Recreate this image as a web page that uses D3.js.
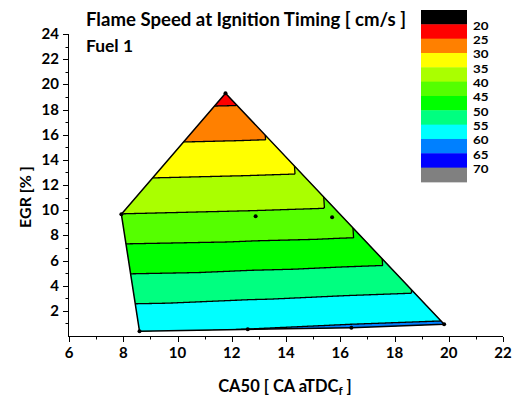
<!DOCTYPE html>
<html><head><meta charset="utf-8">
<script src="https://cdn.jsdelivr.net/npm/d3@7"></script>
<style>
body{margin:0;background:#fff}
svg{display:block}
text{font-family:Lato,"Open Sans",sans-serif;font-weight:bold;fill:#000}
</style>
</head><body>
<svg id="c" width="528" height="397"></svg>
<script>
// ---- data ----
const ca50  = [11.77, 7.93, 8.60, 19.83, 12.88, 15.70, 12.59, 16.41];
const egr   = [19.30, 9.68, 0.37, 0.93, 9.52, 9.44, 0.53, 0.66];
const speed = [23.2, 40.05, 59.6, 60.6, 40.8, 41.3, 60.05, 60.6];
const levels = [20, 25, 30, 35, 40, 45, 50, 55, 60, 65, 70];
const bandColors = ["#000000","#FF0000","#FF8000","#FFFF00","#AAFF00","#55FF00","#00FF00","#00FF80","#00FFFF","#0080FF","#0000FF","#808080"];
const xTicks = [6, 8, 10, 12, 14, 16, 18, 20, 22];
const yTicks = [2, 4, 6, 8, 10, 12, 14, 16, 18, 20, 22, 24];
const titleText = "Flame Speed at Ignition Timing [ cm/s ]";
const subtitleText = "Fuel 1";

// ---- layout ----
const svg = d3.select("#c");
const x = d3.scaleLinear().domain([6, 22]).range([69, 503]);
const y = d3.scaleLinear().domain([0, 24]).range([336, 34]);

function fitText(sel, targetW) {
  const n = sel.node();
  const fs = parseFloat(sel.attr("font-size"));
  const w = n.getComputedTextLength();
  if (w > 0) sel.attr("font-size", (fs * targetW / w).toFixed(2));
  return sel;
}

// ---- triangulation + linear interpolation (as contour from XYZ data) ----
const pts = ca50.map((v, i) => [v, egr[i]]);
const del = d3.Delaunay.from(pts);
const tris = [];
for (let t = 0; t < del.triangles.length; t += 3) tris.push([del.triangles[t], del.triangles[t+1], del.triangles[t+2]]);
function interp(dx, dy) {
  let best = 0, bestMin = -Infinity;
  for (const [a, b, c] of tris) {
    const [x1, y1] = pts[a], [x2, y2] = pts[b], [x3, y3] = pts[c];
    const det = (y2 - y3) * (x1 - x3) + (x3 - x2) * (y1 - y3);
    const l1 = ((y2 - y3) * (dx - x3) + (x3 - x2) * (dy - y3)) / det;
    const l2 = ((y3 - y1) * (dx - x3) + (x1 - x3) * (dy - y3)) / det;
    const l3 = 1 - l1 - l2;
    const m = Math.min(l1, l2, l3);
    if (m > bestMin) { bestMin = m; best = l1 * speed[a] + l2 * speed[b] + l3 * speed[c]; }
  }
  return best;
}
const gx0 = x(6) + 20, gy0 = y(24) + 40, gx1 = x(21), gy1 = y(0) + 4;
const nx = Math.ceil(gx1 - gx0), ny = Math.ceil(gy1 - gy0);
const values = new Float64Array(nx * ny);
for (let j = 0; j < ny; j++) for (let i = 0; i < nx; i++) {
  values[j * nx + i] = interp(x.invert(gx0 + i + 0.5), y.invert(gy0 + j + 0.5));
}
const contours = d3.contours().size([nx, ny]).thresholds(levels)(values);

const hull = del.hullPolygon().map(p => [x(p[0]), y(p[1])]);
const hullLine = d3.line().curve(d3.curveLinearClosed);

svg.append("clipPath").attr("id", "hullclip").append("path").attr("d", hullLine(hull));

const plot = svg.append("g").attr("clip-path", "url(#hullclip)");
plot.append("path").attr("d", hullLine(hull)).attr("fill", bandColors[0]);
const gpath = d3.geoPath();
const cg = plot.append("g").attr("transform", `translate(${gx0},${gy0})`);
cg.selectAll("path.band").data(contours).join("path")
  .attr("class", "band")
  .attr("d", gpath)
  .attr("fill", (d, i) => bandColors[i + 1]);
cg.selectAll("path.line").data(contours).join("path")
  .attr("class", "line")
  .attr("d", gpath)
  .attr("fill", "none")
  .attr("stroke", "#000")
  .attr("stroke-width", 1.3);

svg.append("path").attr("d", hullLine(hull)).attr("fill", "none")
  .attr("stroke", "#000").attr("stroke-width", 1.5).attr("stroke-linejoin", "round");

svg.selectAll("circle.pt").data(pts).join("circle")
  .attr("class", "pt").attr("cx", d => x(d[0])).attr("cy", d => y(d[1]))
  .attr("r", 2).attr("fill", "#000");

// ---- axes ----
const ax = svg.append("g").attr("stroke", "#000").attr("stroke-width", 1);
ax.append("line").attr("x1", x(6)).attr("x2", x(22)).attr("y1", y(0) + 0.5).attr("y2", y(0) + 0.5);
ax.append("line").attr("x1", x(6) - 0.5).attr("x2", x(6) - 0.5).attr("y1", y(24)).attr("y2", y(0) + 1);
d3.range(6, 22.01, 1).forEach(v => {
  const major = v % 2 === 0;
  ax.append("line").attr("x1", Math.round(x(v)) + 0.5).attr("x2", Math.round(x(v)) + 0.5)
    .attr("y1", y(0) + 1).attr("y2", y(0) + (major ? 6 : 3.5));
});
d3.range(1, 24.01, 1).forEach(v => {
  const major = v % 2 === 0;
  ax.append("line").attr("y1", Math.round(y(v)) + 0.5).attr("y2", Math.round(y(v)) + 0.5)
    .attr("x1", x(6) - 1).attr("x2", x(6) - (major ? 6 : 3.5));
});

const tickFs = 15;
svg.append("g").selectAll("text").data(xTicks).join("text")
  .attr("x", d => x(d)).attr("y", 358).attr("text-anchor", "middle")
  .attr("font-size", tickFs).text(d => d);
svg.append("g").selectAll("text").data(yTicks).join("text")
  .attr("x", 59).attr("y", d => y(d) + 5).attr("text-anchor", "end")
  .attr("font-size", tickFs).text(d => d);

// ---- titles ----
const t1 = svg.append("text").attr("x", 86).attr("y", 26).attr("font-size", 17).text(titleText);
fitText(t1, 320);
const t2 = svg.append("text").attr("x", 86).attr("y", 52).attr("font-size", 17).text(subtitleText);
fitText(t2, 47);

const xt = svg.append("text").attr("x", 285).attr("y", 392).attr("text-anchor", "middle").attr("font-size", 16.5);
xt.append("tspan").text("CA50 [ CA aTDC");
xt.append("tspan").attr("font-size", 11.5).attr("dy", 3).text("f");
xt.append("tspan").attr("dy", -3).text(" ]");

svg.append("text").attr("transform", "translate(31,197) rotate(-90)")
  .attr("text-anchor", "middle").attr("font-size", 16).text("EGR [% ]");

// ---- legend ----
const lx = 421, lw = 46, ly0 = 10, lh = 14.33;
const lg = svg.append("g");
lg.selectAll("rect").data(bandColors).join("rect")
  .attr("x", lx).attr("y", (d, i) => ly0 + i * lh).attr("width", lw).attr("height", lh + 0.4)
  .attr("fill", d => d);
lg.selectAll("text").data(levels).join("text")
  .attr("x", 473).attr("y", (d, i) => ly0 + (i + 1) * lh + 5.5)
  .attr("font-size", 12).attr("textLength", 15.5).attr("lengthAdjust", "spacingAndGlyphs").text(d => d);
</script>
</body></html>
